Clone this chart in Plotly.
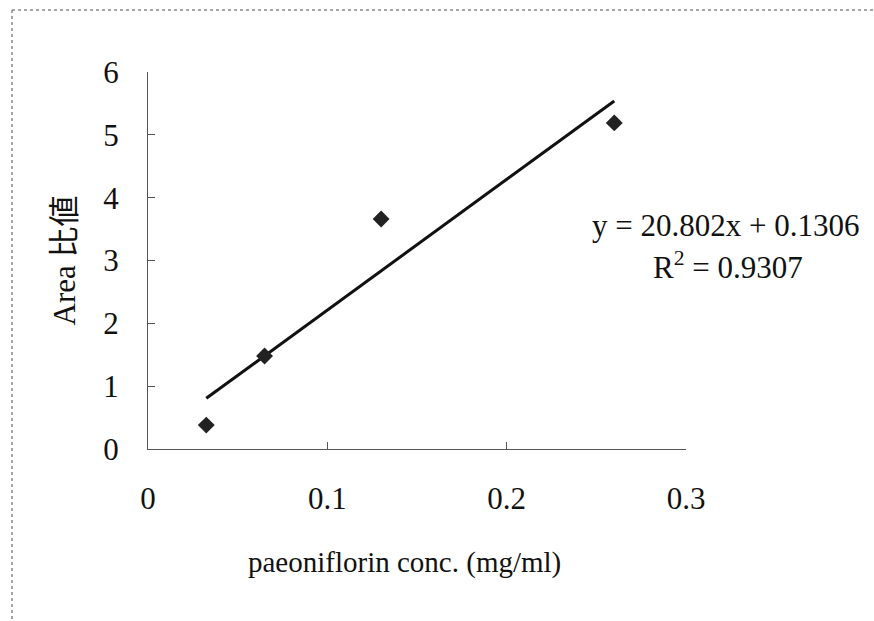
import plotly.graph_objects as go

conc = [0.0325, 0.065, 0.13, 0.26]
area_ratio = [0.38, 1.48, 3.66, 5.19]
slope = 20.802
intercept = 0.1306
r2 = 0.9307
x_ticks = [0, 0.1, 0.2, 0.3]
y_ticks = [0, 1, 2, 3, 4, 5, 6]
x_title = "paeoniflorin conc. (mg/ml)"
y_title = "Area 比値"

fit_x = [min(conc), max(conc)]
fit_y = [slope * v + intercept for v in fit_x]

FONT = "Liberation Serif, Times New Roman, serif"

fig = go.Figure()
fig.add_trace(go.Scatter(x=fit_x, y=fit_y, mode="lines",
                         line=dict(color="#111111", width=3), showlegend=False))
fig.add_trace(go.Scatter(x=conc, y=area_ratio, mode="markers",
                         marker=dict(symbol="diamond", size=13, color="#222222"),
                         showlegend=False))

L, R, T, B = 148, 188, 72, 172
W, H = 874, 621
pw, ph = W - L - R, H - T - B

def px(x):
    return (x - L) / pw

def py(y):
    return (H - B - y) / ph

fig.update_layout(
    width=W, height=H,
    margin=dict(l=L, r=R, t=T, b=B),
    paper_bgcolor="white", plot_bgcolor="white",
    font=dict(family=FONT, color="#111111"),
    xaxis=dict(range=[0, 0.3], tickvals=x_ticks, ticktext=[f"{v:g}" for v in x_ticks],
               showgrid=False, zeroline=False, showline=True, linecolor="#555555",
               linewidth=1.2, ticks="inside", ticklen=7, tickcolor="#555555",
               tickfont=dict(size=31), ticklabelstandoff=22),
    yaxis=dict(range=[0, 6], tickvals=y_ticks, showgrid=False, zeroline=False,
               showline=True, linecolor="#555555", linewidth=1.2,
               ticks="inside", ticklen=7, tickcolor="#555555",
               tickfont=dict(size=31), ticklabelstandoff=22,
               title=dict(text=y_title, font=dict(size=31,
                          family="Liberation Serif, Noto Sans CJK TC, serif"), standoff=18)),
    annotations=[
        dict(x=px(404), y=py(562), xref="paper", yref="paper", showarrow=False,
             text=x_title, font=dict(size=29), xanchor="center", yanchor="middle"),
        dict(x=px(725), y=py(226), xref="paper", yref="paper", showarrow=False,
             text=f"y = {slope}x + {intercept}", font=dict(size=31), xanchor="center", yanchor="middle"),
        dict(x=px(728), y=py(265), xref="paper", yref="paper", showarrow=False,
             text=f"R<sup>2</sup> = {r2}", font=dict(size=31), xanchor="center", yanchor="middle"),
    ],
    shapes=[
        dict(type="line", xref="paper", yref="paper", x0=px(12), x1=px(880), y0=py(10), y1=py(10),
             line=dict(color="#888888", width=1.5, dash="dot")),
        dict(type="line", xref="paper", yref="paper", x0=px(12), x1=px(12), y0=py(10), y1=py(630),
             line=dict(color="#888888", width=1.5, dash="dot")),
    ],
)

fig.write_html("out.html")
